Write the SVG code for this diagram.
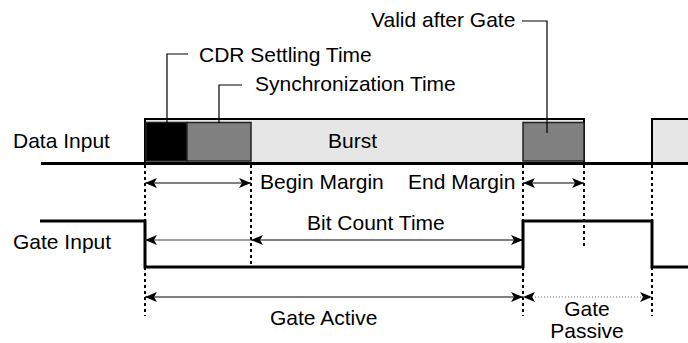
<svg xmlns="http://www.w3.org/2000/svg" width="688" height="343" viewBox="0 0 688 343">
<style>
text{font-family:"Liberation Sans",Arial,sans-serif;font-size:21px;fill:#000}
.sig{fill:none;stroke:#000;stroke-width:3}
.dot{fill:none;stroke:#000;stroke-width:2;stroke-dasharray:3 3}
.arr{fill:none;stroke:#000;stroke-width:1.2;marker-start:url(#ah);marker-end:url(#ah)}
.lead{fill:none;stroke:#000;stroke-width:1.2}
.inner{stroke:#222;stroke-width:1.5}
</style>
<defs>
<marker id="ah" viewBox="0 0 12 10" refX="12" refY="5" markerWidth="12" markerHeight="10" markerUnits="userSpaceOnUse" orient="auto-start-reverse">
<path d="M0,0 L12,5 L0,10 L3,5 z" fill="#000"/>
</marker>
</defs>
<rect width="688" height="343" fill="#fff"/>

<g id="data-signal">
<text x="13" y="148">Data Input</text>
<rect x="145" y="119" width="439" height="44.5" fill="#e6e6e6" stroke="#000" stroke-width="2"/>
<rect x="146" y="122.5" width="41" height="38.5" fill="#000" class="inner"/>
<rect x="187" y="122.5" width="64" height="38.5" fill="#808080" class="inner"/>
<rect x="523" y="122.5" width="61" height="38.5" fill="#808080" class="inner"/>
<rect x="652" y="119" width="40" height="44.5" fill="#e6e6e6" stroke="#000" stroke-width="2"/>
<text x="328" y="148">Burst</text>
<line x1="41" y1="163.5" x2="688" y2="163.5" class="sig"/>
</g>

<g id="gate-signal">
<text x="13" y="249">Gate Input</text>
<polyline points="40,221 145,221 145,267 523,267 523,221 652,221 652,267 688,267" class="sig"/>
</g>

<g id="labels">
<text x="199" y="62">CDR Settling Time</text>
<text x="255" y="91">Synchronization Time</text>
<text x="371" y="27">Valid after Gate</text>
<text x="260" y="189">Begin Margin</text>
<text x="408" y="189">End Margin</text>
<text x="307" y="230">Bit Count Time</text>
<text x="270" y="325">Gate Active</text>
<text x="587" y="316" text-anchor="middle">Gate</text>
<text x="587" y="338" text-anchor="middle">Passive</text>
</g>

<g id="connectors">
<polyline points="188,54 167,54 167,123" class="lead"/>
<polyline points="242,85 219,85 219,123" class="lead"/>
<polyline points="522,21 547,21 547,133" class="lead"/>
<line x1="145" y1="165" x2="145" y2="316" class="dot"/>
<line x1="251" y1="165" x2="251" y2="267" class="dot"/>
<line x1="523" y1="165" x2="523" y2="316" class="dot"/>
<line x1="584" y1="165" x2="584" y2="247" class="dot"/>
<line x1="652" y1="165" x2="652" y2="316" class="dot"/>
<line x1="145" y1="183" x2="251" y2="183" class="arr"/>
<line x1="523" y1="183" x2="584" y2="183" class="arr"/>
<line x1="251" y1="240" x2="145" y2="240" fill="none" stroke="#444" stroke-width="1.2" marker-end="url(#ah)"/>
<line x1="251" y1="240" x2="523" y2="240" class="arr" stroke="#333"/>
<line x1="145" y1="297" x2="523" y2="297" class="arr"/>
<line x1="523" y1="297" x2="652" y2="297" fill="none" stroke="#666" stroke-width="1" stroke-dasharray="1 2" marker-start="url(#ah)" marker-end="url(#ah)"/>
</g>
</svg>
